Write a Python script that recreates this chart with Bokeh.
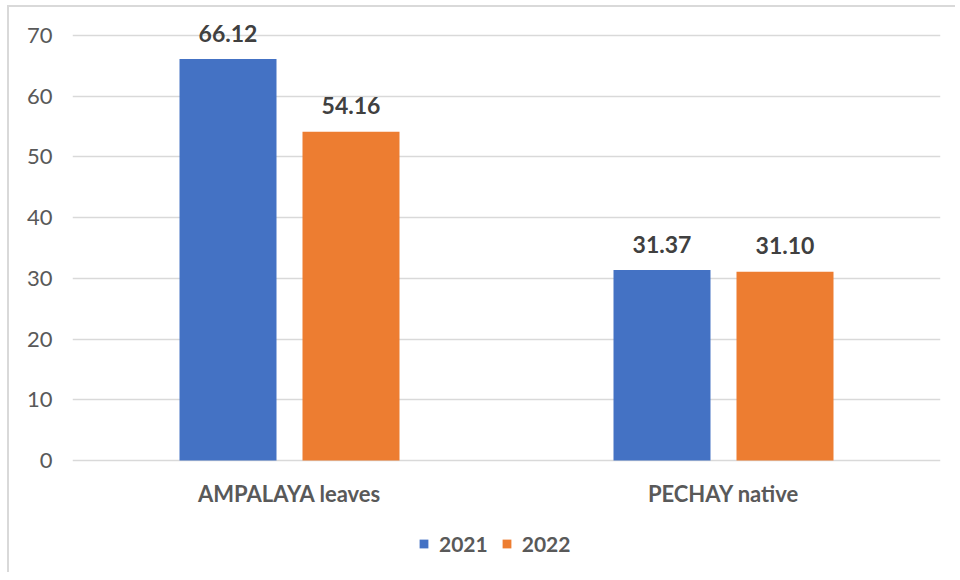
from bokeh.plotting import figure
from bokeh.models import ColumnDataSource, FactorRange, Range1d, Legend, LegendItem, FixedTicker
from bokeh.transform import dodge
from bokeh.core.properties import value
from bokeh.embed import file_html
from bokeh.resources import INLINE

categories = ["AMPALAYA leaves", "PECHAY native"]
years = ["2021", "2022"]
values_2021 = [66.12, 31.37]
values_2022 = [54.16, 31.10]
y_ticks = [0, 10, 20, 30, 40, 50, 60, 70]

FONT = "Lato"
BLUE = "#4472C4"
ORANGE = "#ED7D31"

src = ColumnDataSource(dict(
    cat=categories,
    v21=values_2021,
    v22=values_2022,
    l21=[f"{v:.2f}" for v in values_2021],
    l22=[f"{v:.2f}" for v in values_2022],
))

# the frame extends beyond 0..70 so the category labels, data labels and legend sit inside it
p = figure(
    x_range=FactorRange(factors=categories, range_padding=0),
    y_range=Range1d(-18.12, 73.79),
    width=948, height=567,
    output_backend="svg", toolbar_location=None,
    min_border_left=63, min_border_right=17, min_border_top=5, min_border_bottom=4,
)
p.styles = {"margin-left": "7px", "margin-top": "5px",
            "border-left": "2px solid #d9d9d9", "border-top": "2px solid #d9d9d9"}
p.outline_line_color = None

bw = 0.2235
off = 0.1417
r1 = p.vbar(x=dodge("cat", -off, range=p.x_range), top="v21", bottom=0, width=bw, source=src,
            fill_color=BLUE, line_color=None)
r2 = p.vbar(x=dodge("cat", off, range=p.x_range), top="v22", bottom=0, width=bw, source=src,
            fill_color=ORANGE, line_color=None)

for col, lab, o in (("v21", "l21", -off), ("v22", "l22", off)):
    p.text(x=dodge("cat", o, range=p.x_range), y=col, text=lab, source=src,
           text_align="center", text_baseline="alphabetic", y_offset=-26,
           text_font=value(FONT), text_font_style="bold", text_font_size="23px",
           text_color="#404040")

p.xgrid.grid_line_color = None
p.ygrid.grid_line_color = "#d9d9d9"
p.ygrid.grid_line_width = 1.5
p.ygrid.ticker = FixedTicker(ticks=y_ticks)

p.yaxis.ticker = FixedTicker(ticks=y_ticks)
p.yaxis.axis_line_color = None
p.yaxis.major_tick_line_color = None
p.yaxis.minor_tick_line_color = None
p.yaxis.major_tick_out = 0
p.yaxis.major_label_standoff = 20
p.yaxis.major_label_text_font = FONT
p.yaxis.major_label_text_font_size = "22px"
p.yaxis.major_label_text_color = "#595959"

p.xaxis.fixed_location = 0
p.xaxis.axis_line_color = None
p.xaxis.major_tick_line_color = None
p.xaxis.major_tick_out = 0
p.xaxis.major_label_standoff = 20
p.xaxis.major_label_text_font = FONT
p.xaxis.major_label_text_font_style = "bold"
p.xaxis.major_label_text_font_size = "22px"
p.xaxis.major_label_text_color = "#595959"

legend = Legend(
    items=[LegendItem(label=years[0], renderers=[r1]), LegendItem(label=years[1], renderers=[r2])],
    orientation="horizontal", location=(346, 14),
    glyph_width=11, glyph_height=11, label_standoff=10, spacing=13,
    padding=0, margin=0, border_line_color=None, background_fill_alpha=0,
    label_text_font=FONT, label_text_font_style="bold", label_text_font_size="21px",
    label_text_color="#595959",
)
p.add_layout(legend, "center")

open("out.html", "w").write(file_html(p, INLINE))
